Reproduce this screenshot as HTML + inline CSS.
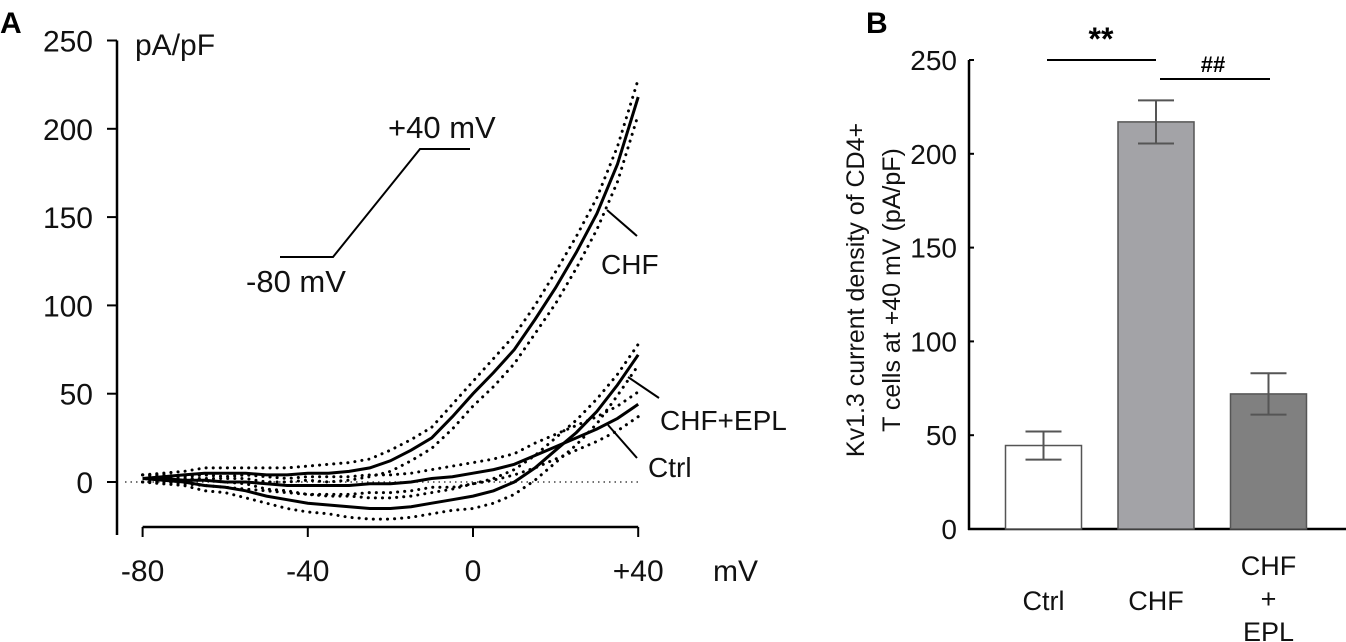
<!DOCTYPE html>
<html><head><meta charset="utf-8"><style>
html,body{margin:0;padding:0;background:#fff;}
svg{display:block;font-family:"Liberation Sans",Arial,sans-serif;}
</style></head><body>
<svg id="fig" width="1346" height="642" viewBox="0 0 1346 642">
<text x="0" y="33" font-size="30" font-weight="bold">A</text>
<text x="866" y="33" font-size="30" font-weight="bold">B</text>
<g id="pa"></g>
<g id="pb"></g>
</svg>
<script>
// Panel A data
const volts = [-80,-75,-70,-65,-60,-55,-50,-45,-40,-35,-30,-25,-20,-15,-10,-5,0,5,10,15,20,25,30,35,40];
const chfMean = [2,3,4,5,5,5,4,4,5,5,6,8,12,18,25,37,50,62,75,92,110,130,152,180,218];
const chfSem = [2,2,2,3,3,3,4,4,4,5,5,5,6,6,6,7,7,8,8,8,9,9,9,10,10];
const eplMean = [2,1,0,-2,-3,-5,-8,-10,-12,-13,-14,-15,-15,-14,-12,-10,-8,-5,0,8,18,28,40,55,72];
const eplSem = [2,2,2,3,3,4,4,5,5,5,6,6,6,6,6,6,7,7,7,7,7,7,7,6,6];
const ctrlMean = [2,2,1,1,0,0,-1,-2,-2,-2,-2,-1,-1,0,2,3,5,7,10,15,20,25,30,36,44];
const ctrlSem = [2,2,2,3,3,4,4,4,5,5,5,5,5,5,5,6,6,6,6,7,7,7,7,7,7];
const xTicks = [-80,-40,0,40];
const xTickLabels = ["-80","-40","0","+40"];
const yTicksA = [0,50,100,150,200,250];
// Panel B data
const cats = ["Ctrl","CHF","CHF+EPL"];
const barVals = [44.5,217,72];
const barErr = [7.5,11.5,11];
const barFill = ["#ffffff","#a3a3a7","#808080"];
const yTicksB = [0,50,100,150,200,250];

const NS="http://www.w3.org/2000/svg";
function mk(parent,tag,attrs,txt){const e=document.createElementNS(NS,tag);for(const k in attrs)e.setAttribute(k,attrs[k]);if(txt!==undefined)e.textContent=txt;parent.appendChild(e);return e;}
const pa=document.getElementById('pa'), pb=document.getElementById('pb');
const xA=v=>473+(v)*4.13;
const yA=v=>482-v*1.766;

// Axes A
let e=mk(pa,'line',{x1:117,y1:yA(250),x2:117,y2:535,stroke:'#000','stroke-width':2.5});

yTicksA.forEach(t=>{
 let l=mk(pa,'line',{x1:107,y1:yA(t),x2:117,y2:yA(t),stroke:'#000','stroke-width':2});
 
 let tx=mk(pa,'text',{x:93,y:yA(t)+11,'font-size':30,'text-anchor':'end',fill:'#111'},String(t));
 
});
e=mk(pa,'line',{x1:xA(-80),y1:527,x2:xA(40),y2:527,stroke:'#000','stroke-width':2.5});

xTicks.forEach((t,i)=>{
 let l=mk(pa,'line',{x1:xA(t),y1:527,x2:xA(t),y2:537,stroke:'#000','stroke-width':2});
 
 let tx=mk(pa,'text',{x:xA(t),y:581,'font-size':30,'text-anchor':'middle',fill:'#111'},xTickLabels[i]);
 
});
e=mk(pa,'text',{x:713,y:581,'font-size':30,fill:'#111'},'mV');

e=mk(pa,'text',{x:135,y:55,'font-size':30,fill:'#111'},'pA/pF');

e=mk(pa,'line',{x1:125,y1:482,x2:xA(40),y2:482,stroke:'#444','stroke-width':1.5,'stroke-dasharray':'1.5 4'});


function path(arr,off,sign){return arr.map((v,i)=>(i?'L':'M')+xA(volts[i]).toFixed(1)+' '+yA(v+(off?sign*off[i]:0)).toFixed(1)).join(' ');}
[[chfMean,chfSem,'chf'],[eplMean,eplSem,'chf-epl'],[ctrlMean,ctrlSem,'ctrl']].forEach(([m,s,n])=>{
 let p=mk(pa,'path',{d:path(m,s,1),fill:'none',stroke:'#000','stroke-width':3,'stroke-dasharray':'0.1 7','stroke-linecap':'round'});
 
 p=mk(pa,'path',{d:path(m,s,-1),fill:'none',stroke:'#000','stroke-width':3,'stroke-dasharray':'0.1 7','stroke-linecap':'round'});
 
 p=mk(pa,'path',{d:path(m),fill:'none',stroke:'#000','stroke-width':3});
 
});
// protocol
e=mk(pa,'polyline',{points:'280,257 333,257 420,149 470,149',fill:'none',stroke:'#000','stroke-width':2});

e=mk(pa,'text',{x:388,y:138,'font-size':31,fill:'#111'},'+40 mV');

e=mk(pa,'text',{x:246,y:292,'font-size':31,fill:'#111'},'-80 mV');

// series labels
[[607,210,637,236,601,274,'CHF','chf'],[628,377,659,398,660,430,'CHF+EPL','chf-epl'],[608,425,637,458,648,477,'Ctrl','ctrl']].forEach(a=>{
 let l=mk(pa,'line',{x1:a[0],y1:a[1],x2:a[2],y2:a[3],stroke:'#000','stroke-width':2});
 
 let t=mk(pa,'text',{x:a[4],y:a[5],'font-size':28,fill:'#111'},a[6]);
 
});

// Panel B
const yB=v=>529-v*1.876;
const xB=i=>1043.5+i*112.5;
const bw=76;
e=mk(pb,'line',{x1:969,y1:yB(250),x2:969,y2:530,stroke:'#000','stroke-width':2.5});

e=mk(pb,'line',{x1:968,y1:529,x2:1346,y2:529,stroke:'#000','stroke-width':2.5});

yTicksB.forEach(t=>{
 let l=mk(pb,'line',{x1:969,y1:yB(t),x2:974,y2:yB(t),stroke:'#000','stroke-width':2});
 
 let tx=mk(pb,'text',{x:957,y:yB(t)+10,'font-size':28,'text-anchor':'end',fill:'#111'},String(t));
 
});
cats.forEach((c,i)=>{
 let r=mk(pb,'rect',{x:xB(i)-bw/2,y:yB(barVals[i]),width:bw,height:yB(0)-yB(barVals[i]),fill:barFill[i],stroke:'#555','stroke-width':1.5});
 
 let hi=barVals[i]+barErr[i], lo=barVals[i]-barErr[i];
 let eb=mk(pb,'path',{d:`M${xB(i)} ${yB(hi)} V${yB(lo)} M${xB(i)-18} ${yB(hi)} H${xB(i)+18} M${xB(i)-18} ${yB(lo)} H${xB(i)+18}`,stroke:'#555','stroke-width':2,fill:'none'});
 
});
[['Ctrl',0],['CHF',1]].forEach(a=>{
 let t=mk(pb,'text',{x:xB(a[1]),y:610,'font-size':27,'text-anchor':'middle',fill:'#111'},a[0]);
 
});
['CHF','+','EPL'].forEach((s,k)=>{
 let t=mk(pb,'text',{x:xB(2),y:575+k*33,'font-size':27,'text-anchor':'middle',fill:'#111'},s);
 
});
e=mk(pb,'text',{transform:'translate(864,290) rotate(-90)','font-size':25,'text-anchor':'middle',fill:'#111'},'Kv1.3 current density of CD4+');

e=mk(pb,'text',{transform:'translate(900,290) rotate(-90)','font-size':25,'text-anchor':'middle',fill:'#111'},'T cells at +40 mV (pA/pF)');

e=mk(pb,'line',{x1:1047,y1:60,x2:1156,y2:60,stroke:'#000','stroke-width':2});

e=mk(pb,'text',{x:1101,y:50,'font-size':32,'font-weight':'bold','text-anchor':'middle'},'**');

e=mk(pb,'line',{x1:1160,y1:79,x2:1270,y2:79,stroke:'#000','stroke-width':2});

e=mk(pb,'text',{x:1213,y:72,'font-size':22,'font-weight':'bold','text-anchor':'middle'},'##');

</script>
</body></html>
